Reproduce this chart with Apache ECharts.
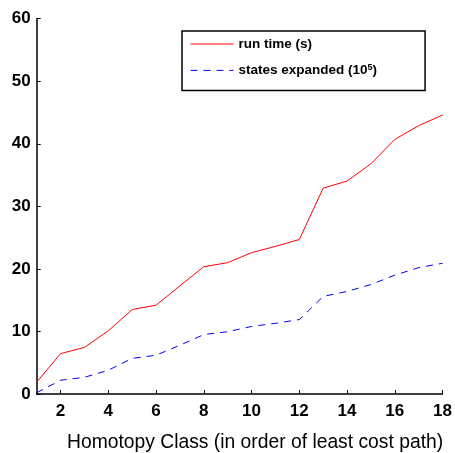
<!DOCTYPE html>
<html>
<head>
<meta charset="utf-8">
<script src="https://cdn.jsdelivr.net/npm/echarts@6/dist/echarts.min.js"></script>
<style>html,body{margin:0;padding:0;background:#fff;}#c{width:455px;height:453px;}</style>
</head>
<body>
<div id="c"></div>
<script>
const homotopyClass = [1,2,3,4,5,6,7,8,9,10,11,12,13,14,15,16,17,18];
const runTime = [1.9,6.45,7.45,10.1,13.5,14.2,17.3,20.35,21.0,22.6,23.6,24.7,32.9,34.05,36.8,40.7,42.9,44.6];
const statesExpanded = [0.2,2.2,2.67,3.8,5.7,6.2,7.8,9.5,9.96,10.8,11.3,11.9,15.6,16.4,17.5,19.0,20.2,20.9];
const xTicks = [2,4,6,8,10,12,14,16,18];
const seriesNames = ['run time (s)', 'states expanded (10^5)'];

const chart = echarts.init(document.getElementById('c'), null, {renderer:'canvas'});
const font = '"Liberation Sans", Arial, Helvetica, sans-serif';
chart.setOption({
  backgroundColor: '#fff',
  animation: false,
  grid: {left: 36.7, right: 9.3, top: 18.7, bottom: 59, containLabel: false},
  title: {
    text: 'Homotopy Class (in order of least cost path)',
    left: 62, top: 428,
    textStyle: {fontFamily: font, fontWeight: 'normal', fontSize: 19.3, color: '#000'}
  },
  legend: {
    orient: 'vertical',
    left: 182, top: 31,
    padding: [6, 48, 10, 8],
    itemWidth: 43, itemHeight: 14, itemGap: 12.4, itemTextGap: 5,
    borderColor: '#000', borderWidth: 1.5, backgroundColor: '#fff',
    itemStyle: {opacity: 0},
    lineStyle: {width: 1},
    data: seriesNames,
    formatter: function(n){ return n === seriesNames[1] ? 'states expanded (10{sup|5})' : n; },
    textStyle: {
      fontFamily: font, fontWeight: 'bold', fontSize: 13.5, color: '#000', lineHeight: 14,
      rich: {sup: {fontFamily: font, fontWeight: 'bold', fontSize: 9, color: '#000', verticalAlign: 'top', lineHeight: 8, padding: [0,0,8,0]}}
    }
  },
  xAxis: {
    type: 'value', min: 1, max: 18,
    axisLine: {show: true, lineStyle: {color: '#000', width: 1.5}},
    axisTick: {show: true, inside: true, length: 4, customValues: xTicks, lineStyle: {color: '#000'}},
    axisLabel: {customValues: xTicks, margin: 9, fontFamily: font, fontWeight: 'bold', fontSize: 17, color: '#000'},
    splitLine: {show: false}
  },
  yAxis: {
    type: 'value', min: 0, max: 60, interval: 10,
    axisLine: {show: true, lineStyle: {color: '#000', width: 1.5}},
    axisTick: {show: true, inside: true, length: 4, lineStyle: {color: '#000'}},
    axisLabel: {margin: 6, fontFamily: font, fontWeight: 'bold', fontSize: 17, color: '#000'},
    splitLine: {show: false}
  },
  series: [
    {
      name: seriesNames[0], type: 'line', showSymbol: false, symbol: 'none',
      data: homotopyClass.map((x,i)=>[x, runTime[i]]),
      lineStyle: {color: '#ff0000', width: 1}, itemStyle: {color: '#ff0000'}
    },
    {
      name: seriesNames[1], type: 'line', showSymbol: false, symbol: 'none',
      data: homotopyClass.map((x,i)=>[x, statesExpanded[i]]),
      lineStyle: {color: '#0000ff', width: 1, type: [7,6]}, itemStyle: {color: '#0000ff'}
    }
  ]
});
</script>
</body>
</html>
